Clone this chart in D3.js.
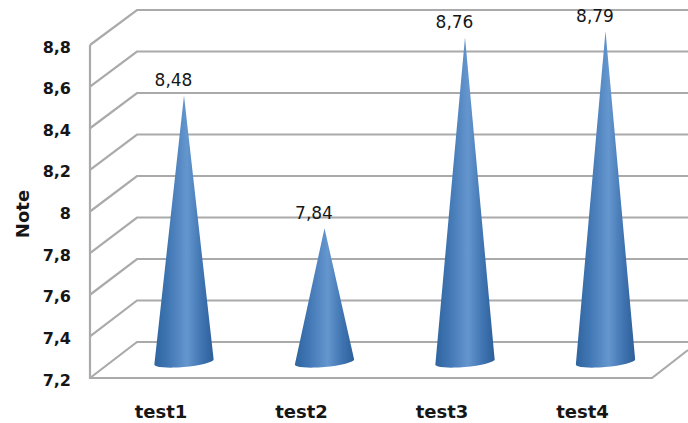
<!DOCTYPE html>
<html><head><meta charset="utf-8">
<script src="https://cdn.jsdelivr.net/npm/d3@7"></script>
<style>html,body{margin:0;padding:0;background:#fff}svg{display:block}</style>
</head><body><div id="c"></div>
<script>
const categories = ["test1","test2","test3","test4"];
const notes = [8.48,7.84,8.76,8.79];
const noteLabels = ["8,48","7,84","8,76","8,79"];
const ticks = [7.2,7.4,7.6,7.8,8,8.2,8.4,8.6,8.8];
const W=688,H=423;
const fmt = d => String(d).replace(".",",");
const svg = d3.select("#c").append("svg").attr("width",W).attr("height",H).attr("viewBox",`0 0 ${W} ${H}`);
const font = "'DejaVu Sans',sans-serif";

const yFront = d3.scaleLinear().domain([7.2,8.8]).range([378,45]);
const yBack  = d3.scaleLinear().domain([7.2,8.8]).range([342,10]);
const yCone  = d3.scaleLinear().domain([7.2,8.8]).range([362,30]);
const x = d3.scaleBand().domain(categories).range([113.75,675.75]);

const defs = svg.append("defs");
const grad = defs.append("linearGradient").attr("id","cone").attr("x1","0").attr("x2","1").attr("y1","0").attr("y2","0");
[[0,"#2f659f"],[0.22,"#3f75b3"],[0.55,"#6596ce"],[0.8,"#3f74b1"],[1,"#2d5f99"]].forEach(([o,c])=>grad.append("stop").attr("offset",o).attr("stop-color",c));
defs.append("filter").attr("id","soft").append("feGaussianBlur").attr("stdDeviation",0.5);

const gridColor="#aaaaaa";
const g = svg.append("g").attr("fill","none").attr("stroke",gridColor).attr("stroke-width",2.2).attr("filter","url(#soft)");
const xFL=90,xBL=137,xFR=652;
ticks.forEach(t=>{
  g.append("path").attr("d",`M${xFL},${yFront(t)}L${xBL},${yBack(t)}L${W},${yBack(t)}`);
});
g.append("path").attr("d",`M${xFL},${yFront(8.8)}V${yFront(7.2)}H${xFR}L${W},${yFront(7.2)-28}`);

const rx = x.bandwidth()*0.211, ry = 5;
svg.append("g").selectAll("path").data(categories).join("path")
  .attr("d",(c,i)=>{
    const cx=x(c)+x.bandwidth()/2, base=yCone(7.2), top=yCone(notes[i])-1;
    return `M${cx},${top}L${cx+rx},${base-2.5}A${rx},${ry} -5 0 1 ${cx-rx},${base+2.5}Z`;
  })
  .attr("fill","url(#cone)").attr("filter","url(#soft)");

const labels = svg.append("g").attr("font-family",font).attr("fill","#161616");
labels.append("g").selectAll("text").data(ticks).join("text")
  .attr("x",71).attr("y",d=>yFront(d)+7.5).attr("text-anchor","end")
  .attr("font-weight",700).attr("font-size",16)
  .text(fmt);

labels.append("g").selectAll("text").data(categories).join("text")
  .attr("x",c=>x(c)+x.bandwidth()/2-23).attr("y",418).attr("text-anchor","middle")
  .attr("font-weight",700).attr("font-size",18)
  .text(c=>c);

labels.append("g").selectAll("text").data(categories).join("text")
  .attr("x",c=>x(c)+x.bandwidth()/2-10.5).attr("y",(c,i)=>yCone(notes[i])-10.5).attr("text-anchor","middle")
  .attr("font-size",17)
  .text((c,i)=>noteLabels[i]);

labels.append("text").attr("transform","translate(29,214) rotate(-90)").attr("text-anchor","middle")
  .attr("font-weight",700).attr("font-size",18).text("Note");
</script></body></html>
